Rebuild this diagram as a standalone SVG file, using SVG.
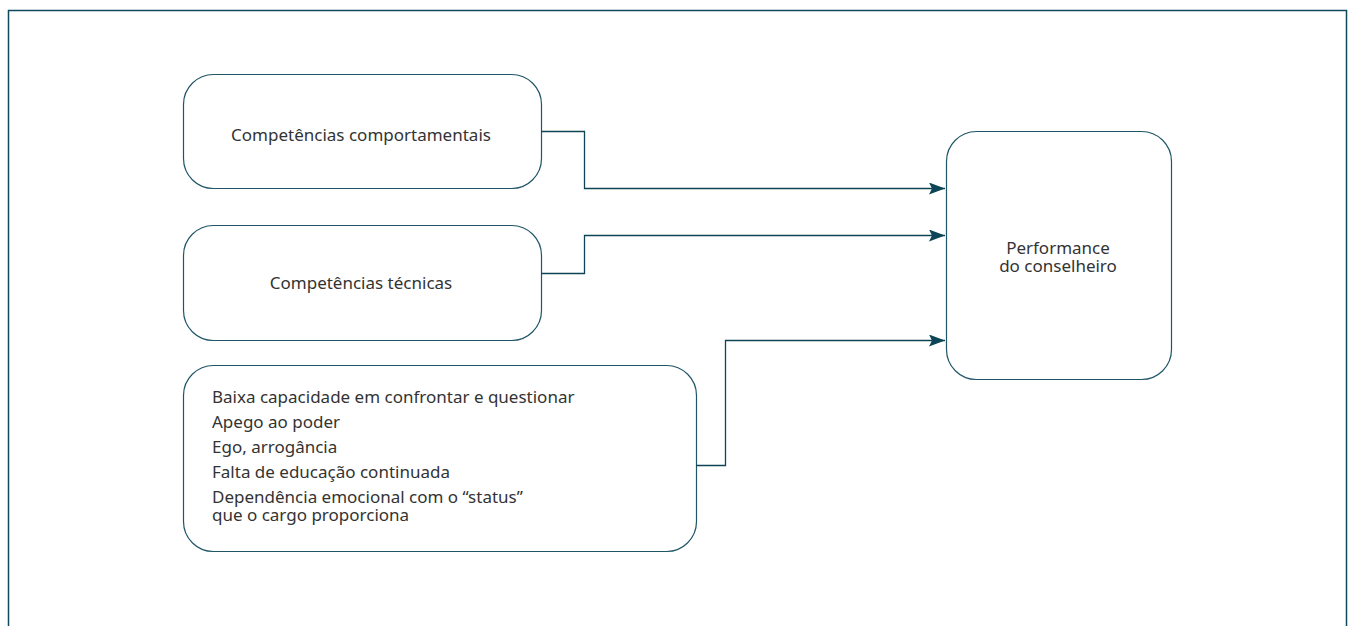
<svg xmlns="http://www.w3.org/2000/svg" width="1349" height="626" viewBox="0 0 1349 626">
<style>
.box{fill:#fff;stroke:#1f5566;stroke-width:1.2}
.t{font-family:"Noto Sans","Open Sans",sans-serif;font-size:17px;fill:#333}
.c{fill:none;stroke:#0d4456;stroke-width:1.3}
</style>
<defs>
<marker id="ah" viewBox="0 0 16 12" refX="16" refY="6" markerWidth="16" markerHeight="12" markerUnits="userSpaceOnUse" orient="auto">
<path d="M0,0 L16,6 L0,12 L3,6 Z" fill="#0d4456"/>
</marker>
</defs>
<rect x="0" y="0" width="1349" height="626" fill="#fff"/>
<path d="M8.5,640 V10.5 H1346.5 V640" fill="none" stroke="#0d4a5a" stroke-width="1.5"/>
<g id="n1"><rect class="box" x="183.5" y="74.5" width="358" height="114" rx="30"/>
<text class="t" x="361" y="141" text-anchor="middle">Competências comportamentais</text></g>
<g id="n2"><rect class="box" x="183.5" y="225.5" width="358" height="115" rx="30"/>
<text class="t" x="361" y="289" text-anchor="middle">Competências técnicas</text></g>
<g id="n3"><rect class="box" x="183.5" y="365.5" width="513" height="186" rx="30"/>
<text class="t" x="212"><tspan x="212" y="403">Baixa capacidade em confrontar e questionar</tspan><tspan x="212" y="428">Apego ao poder</tspan><tspan x="212" y="453">Ego, arrogância</tspan><tspan x="212" y="478">Falta de educação continuada</tspan><tspan x="212" y="503">Dependência emocional com o “status”</tspan><tspan x="212" y="521">que o cargo proporciona</tspan></text></g>
<g id="n4"><rect class="box" x="946.5" y="131.5" width="225" height="248" rx="30"/>
<text class="t" text-anchor="middle"><tspan x="1058" y="254">Performance</tspan><tspan x="1058" y="272">do conselheiro</tspan></text></g>
<g id="connectors">
<path class="c" d="M541.5,131.5 H584.5 V188.5 H945" marker-end="url(#ah)"/>
<path class="c" d="M541.5,273.5 H584.5 V235.5 H945" marker-end="url(#ah)"/>
<path class="c" d="M696.5,465.5 H725.5 V340.5 H945" marker-end="url(#ah)"/>
</g>
</svg>
